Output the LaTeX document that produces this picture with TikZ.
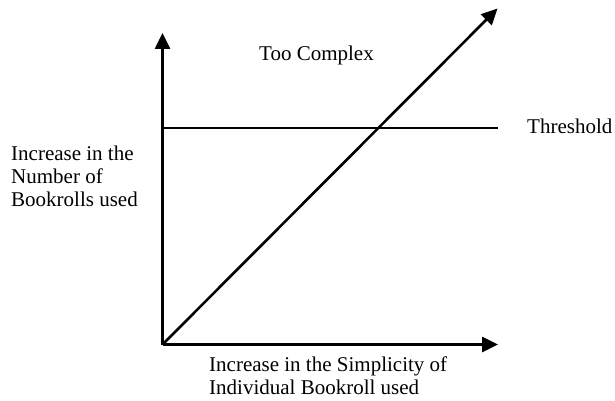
\documentclass[tikz,border=0pt]{standalone}
\usepackage{fontspec}
\setmainfont{Liberation Serif}
\usetikzlibrary{arrows.meta}
\begin{document}
\begin{tikzpicture}[x=1pt,y=-1pt,
  axis/.style={line width=2.6pt,-{Triangle[length=16pt,width=15pt]}},
  thresh/.style={line width=1.2pt},
  lbl/.style={inner sep=0pt,anchor=base west,font=\fontsize{21}{23}\selectfont},
  mlbl/.style={inner sep=0pt,anchor=north west,align=left,font=\fontsize{21}{23}\selectfont}]
\useasboundingbox (0,0) rectangle (615,401);
\coordinate (O) at (162.5,344.5);
\coordinate (Ytip) at (162.5,33);
\coordinate (Xtip) at (498,344.5);
\coordinate (Dtip) at (497.5,8.5);
\coordinate (T0) at (162.5,128);
\coordinate (T1) at (498,128);
\draw[thresh] (T0) -- (T1);
\draw[axis] (O) -- (Ytip);
\draw[axis] (O) -- (Xtip);
\draw[axis] (O) -- (Dtip);
\node[lbl] (too) at (259,61) {Too Complex};
\node[lbl] (thr) at (527,133) {Threshold};
\node[mlbl] (ylab) at (11,145.7) {Increase in the\\Number of\\Bookrolls used};
\node[mlbl] (xlab) at (209,356.7) {Increase in the Simplicity of\\Individual Bookroll used};
\end{tikzpicture}
\end{document}
